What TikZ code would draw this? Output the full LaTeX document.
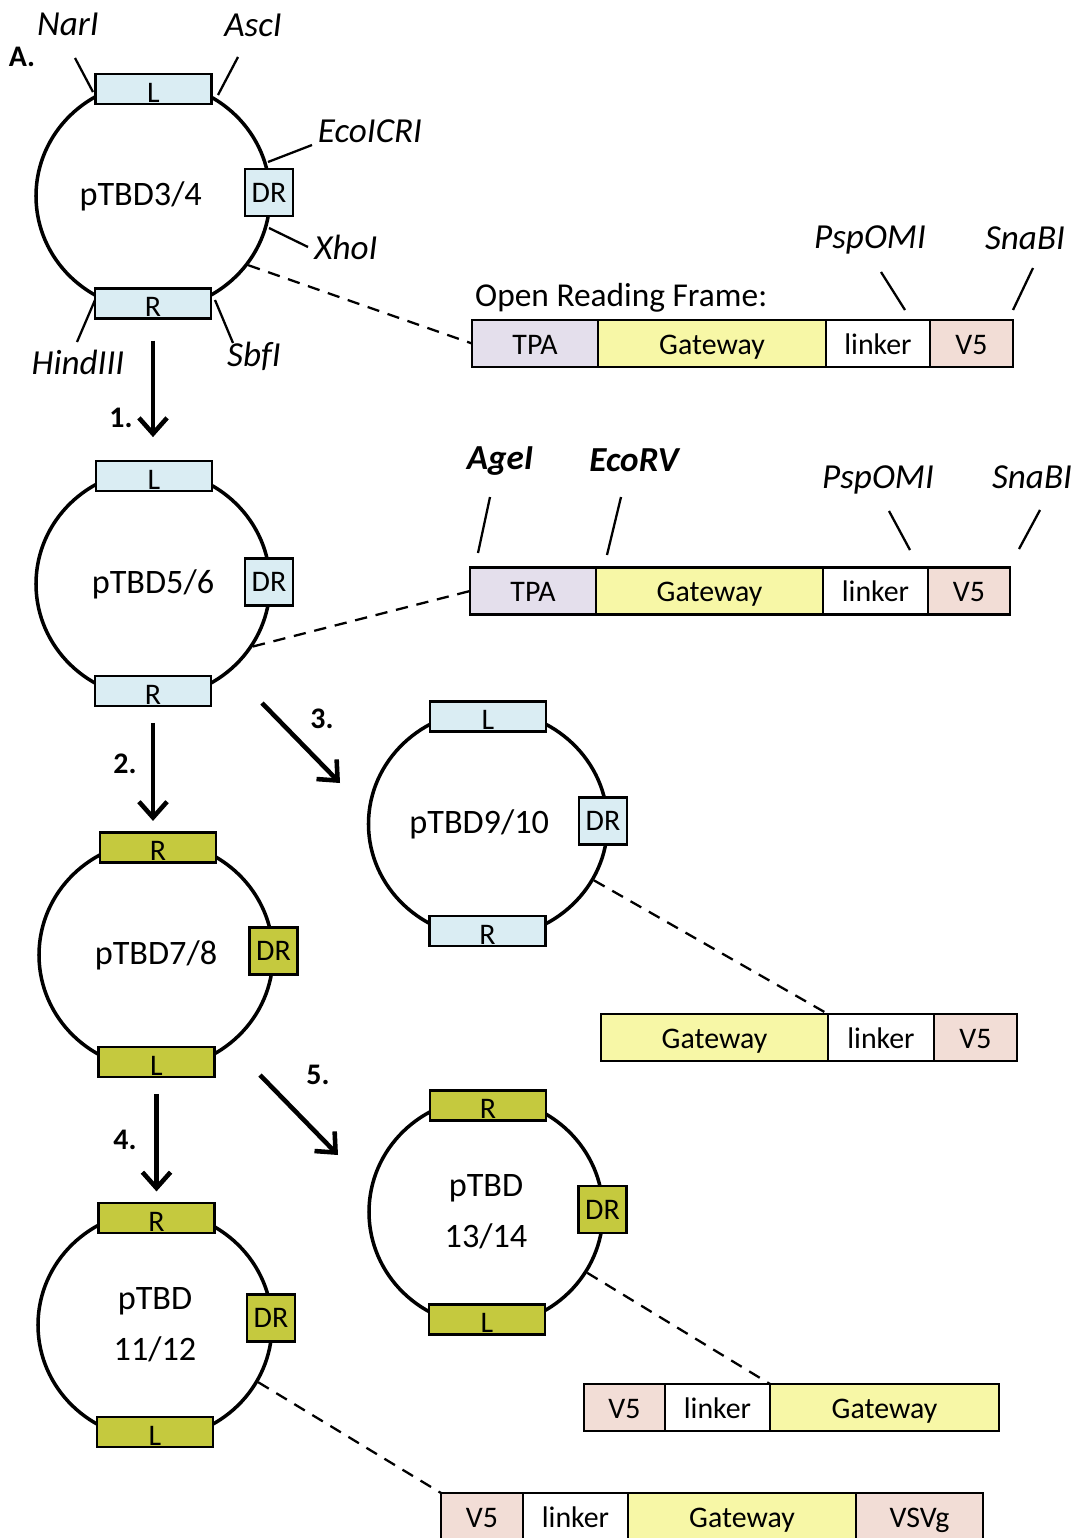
\documentclass[tikz,border=0pt]{standalone}
\usepackage{fontspec}
\setmainfont{Carlito}
\usetikzlibrary{positioning,shapes.geometric,arrows.meta}
\definecolor{boxblue}{RGB}{218,237,243}
\definecolor{boxgreen}{RGB}{197,201,62}
\definecolor{tpacol}{RGB}{228,223,236}
\definecolor{gwcol}{RGB}{247,247,166}
\definecolor{vcol}{RGB}{242,221,214}
\newcommand{\pxl}{0.02cm}
\newcommand{\myfs}[2]{\fontsize{#1}{#2}\selectfont}

\begin{document}
\begin{tikzpicture}[
  x=0.02cm, y=-0.02cm,
  plasmid/.style={draw, ellipse, line width=2pt, minimum width=234*\pxl, minimum height=228*\pxl, align=center, font=\myfs{19.5}{29}},
  lr/.style={draw, line width=1.2pt, minimum width=116*\pxl, minimum height=30*\pxl, inner sep=0pt, text height=15pt, text depth=0pt, font=\myfs{17}{20}},
  dr/.style={draw, line width=1.2pt, minimum width=48*\pxl, minimum height=47*\pxl, inner sep=0pt, font=\myfs{17}{20}},
  seg/.style={draw, line width=1.2pt, minimum height=47*\pxl, inner sep=0pt, outer sep=0pt, text height=14.5pt, text depth=2pt, font=\myfs{17}{20}},
  site/.style={font=\myfs{20}{24}\itshape},
  bsite/.style={font=\myfs{20}{24}\bfseries\itshape},
  tick/.style={line width=1.3pt},
  link/.style={line width=1.3pt, dash pattern=on 7pt off 5pt},
  flow/.style={line width=2.6pt, -{Straight Barb[length=9pt,width=16pt]}},
  num/.style={font=\myfs{17}{20}\bfseries}
]
  \useasboundingbox (0,0) rectangle (1083,1538);
  \node[font=\myfs{17}{19}\bfseries] (lab) at (22,57) {A.};

  % pTBD3/4
  \node[plasmid] (p1) at (153,196) {pTBD3/4\hspace*{14pt}};
  \draw[tick] (75,58) -- (93,92);
  \draw[tick] (238,57) -- (218,95);
  \draw[tick] (312,145) -- (268,162);
  \draw[tick] (269,228) -- (308,247);
  \draw[tick] (77,342) -- (95,300);
  \draw[tick] (215,300) -- (233,343);
  \node[lr, fill=boxblue] (p1l) at (153.5,89) {L};
  \node[lr, fill=boxblue] (p1r) at (153,303.5) {R};
  \node[dr, fill=boxblue] (p1dr) at (269,192.5) {DR};
  \node[site] (narI) at (68,24) {NarI};
  \node[site] (ascI) at (253,25) {AscI};
  \node[site] (ecoICRI) at (370,131) {EcoICRI};
  \node[site] (xhoI) at (346,247) {XhoI};
  \node[site] (hindIII) at (78,362) {HindIII};
  \node[site] (sbfI) at (254,356) {SbfI};

  % ORF 1
  \node[anchor=west, font=\myfs{19}{23}] (orf) at (469,298) {Open Reading Frame:};
  \node[seg, fill=tpacol, minimum width=126*\pxl, anchor=west] (o1tpa) at (472,343.5) {TPA};
  \node[seg, fill=gwcol, minimum width=228*\pxl, right=0pt of o1tpa] (o1gw) {Gateway};
  \node[seg, fill=white, minimum width=104*\pxl, right=0pt of o1gw] (o1lnk) {linker};
  \node[seg, fill=vcol, minimum width=83*\pxl, right=0pt of o1lnk] (o1v5) {V5};
  \node[site] (o1psp) at (870,240) {PspOMI};
  \node[site] (o1sna) at (1025,238) {SnaBI};
  \draw[tick] (881,272) -- (905,310);
  \draw[tick] (1033,268) -- (1013,310);
  \draw[link] (p1.-36) -- (o1tpa.west);

  % pTBD5/6
  \node[plasmid] (p2) at (153,584) {pTBD5/6};
  \node[lr, fill=boxblue] (p2l) at (154,476) {L};
  \node[lr, fill=boxblue] (p2r) at (153,691) {R};
  \node[dr, fill=boxblue] (p2dr) at (269,582) {DR};

  \draw[flow, shorten <=12pt, shorten >=13pt] (p1r.south) -- (p1r.south |- p2l.north);
  \node[num] (n1) at (121,418) {1.};

  % ORF 2
  \node[seg, fill=tpacol, minimum width=126*\pxl, anchor=west] (o2tpa) at (470,591) {TPA};
  \node[seg, fill=gwcol, minimum width=227*\pxl, right=0pt of o2tpa] (o2gw) {Gateway};
  \node[seg, fill=white, minimum width=105*\pxl, right=0pt of o2gw] (o2lnk) {linker};
  \node[seg, fill=vcol, minimum width=82*\pxl, right=0pt of o2lnk] (o2v5) {V5};
  \node[bsite] (o2age) at (500,461) {AgeI};
  \node[bsite] (o2eco) at (634,460) {EcoRV};
  \node[site] (o2psp) at (878,480) {PspOMI};
  \node[site] (o2sna) at (1032,477) {SnaBI};
  \draw[tick] (490,497) -- (478,553);
  \draw[tick] (621,497) -- (607,555);
  \draw[tick] (889,511) -- (910,550);
  \draw[tick] (1040,510) -- (1019,549);
  \draw[link] (p2.-32) -- (o2tpa.west);

  % pTBD7/8
  \node[plasmid] (p3) at (156,955) {pTBD7/8};
  \node[lr, fill=boxgreen] (p3r) at (158,847.5) {R};
  \node[lr, fill=boxgreen] (p3l) at (156.5,1062) {L};
  \node[dr, fill=boxgreen] (p3dr) at (273.5,951) {DR};

  \draw[flow, shorten <=9pt, shorten >=6pt] (p2r.south) -- (p2r.south |- p3r.north);
  \node[num] (n2) at (125,764) {2.};
  \coordinate (a3s) at (262,703);
  \coordinate (a3e) at (340,783);
  \draw[flow] (a3s) -- (a3e);
  \node[num] (n3) at (322,719) {3.};

  % pTBD9/10
  \node[plasmid] (p4) at (488,824) {pTBD9/10\hspace*{10pt}};
  \node[lr, fill=boxblue] (p4l) at (488,716.5) {L};
  \node[lr, fill=boxblue] (p4r) at (487.5,931) {R};
  \node[dr, fill=boxblue] (p4dr) at (603,821) {DR};

  % ORF 3
  \node[seg, fill=gwcol, minimum width=227*\pxl, anchor=west] (o3gw) at (601,1037.5) {Gateway};
  \node[seg, fill=white, minimum width=106*\pxl, right=0pt of o3gw] (o3lnk) {linker};
  \node[seg, fill=vcol, minimum width=83*\pxl, right=0pt of o3lnk] (o3v5) {V5};
  \draw[link] (p4.-28) -- (o3lnk.north west);

  % pTBD11/12
  \node[plasmid] (p6) at (155,1325) {pTBD\\11/12};
  \node[lr, fill=boxgreen] (p6r) at (156.5,1218) {R};
  \node[lr, fill=boxgreen] (p6l) at (155,1432) {L};
  \node[dr, fill=boxgreen] (p6dr) at (271,1318) {DR};

  \draw[flow, shorten <=9pt, shorten >=6pt] (p3l.south) -- (p3l.south |- p6r.north);
  \node[num] (n4) at (125,1140) {4.};
  \coordinate (a5s) at (260,1075);
  \coordinate (a5e) at (338,1155);
  \draw[flow] (a5s) -- (a5e);
  \node[num] (n5) at (318,1075) {5.};

  % pTBD13/14
  \node[plasmid] (p5) at (486,1212) {pTBD\\13/14};
  \node[lr, fill=boxgreen] (p5r) at (488,1105.5) {R};
  \node[lr, fill=boxgreen] (p5l) at (487,1319.5) {L};
  \node[dr, fill=boxgreen] (p5dr) at (602.5,1209.5) {DR};

  % ORF 4
  \node[seg, fill=vcol, minimum width=81*\pxl, anchor=west] (o4v5) at (584,1407.5) {V5};
  \node[seg, fill=white, minimum width=105*\pxl, right=0pt of o4v5] (o4lnk) {linker};
  \node[seg, fill=gwcol, minimum width=229*\pxl, right=0pt of o4lnk] (o4gw) {Gateway};
  \draw[link] (p5.-31) -- (o4gw.north west);

  % ORF 5
  \node[seg, fill=vcol, minimum width=82*\pxl, anchor=west] (o5v5) at (441,1516.5) {V5};
  \node[seg, fill=white, minimum width=105*\pxl, right=0pt of o5v5] (o5lnk) {linker};
  \node[seg, fill=gwcol, minimum width=228*\pxl, right=0pt of o5lnk] (o5gw) {Gateway};
  \node[seg, fill=vcol, minimum width=127*\pxl, right=0pt of o5gw] (o5vsv) {VSVg};
  \draw[link] (p6.-29) -- (o5v5.north west);
\end{tikzpicture}
\end{document}
